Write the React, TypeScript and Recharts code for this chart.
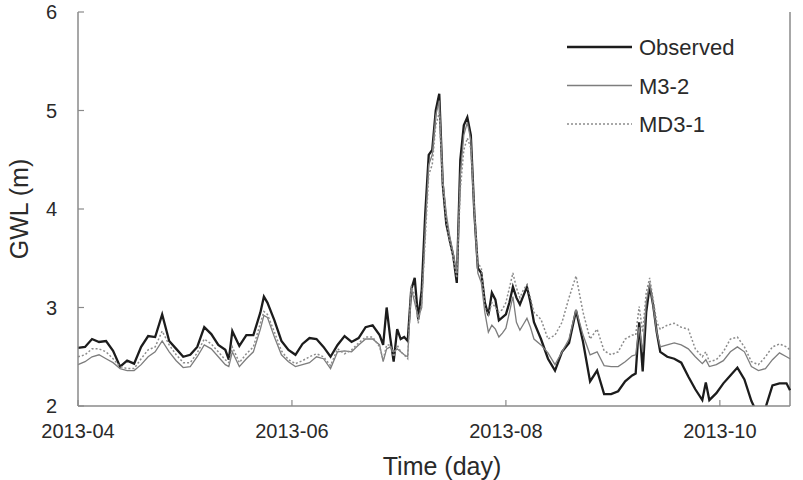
import { LineChart, Line, XAxis, YAxis, ReferenceLine } from 'recharts';

// day index counted from 2013-04-01
const days = [
  0, 2, 4, 6, 8, 10, 12, 14, 16, 18, 20, 22, 24, 26, 28, 30, 32, 34, 36, 38, 40, 42, 43, 44, 46, 48, 50, 52, 53,
  54, 56, 58, 60, 62, 64, 66, 68, 70, 72, 74, 76, 78, 80, 82, 84,
  86, 87, 88, 89, 90, 91, 92, 93, 94, 95, 96, 97, 98, 99, 100, 101, 102, 103, 104, 105, 106, 107, 108, 109, 110,
  111, 112, 113, 114, 115, 116, 117, 118, 119, 120, 121, 122, 123, 124, 125, 126, 127, 128, 129, 130,
  132, 134, 136, 138, 140, 142, 144, 146, 148, 150, 152, 154, 156, 158,
  159, 160, 161, 162, 163, 164, 165, 166,
  168, 170, 172, 174, 176, 178, 179, 180, 182, 184, 186, 188, 190, 192, 194, 196, 198, 200, 202, 203,
];

const observed = [
  2.59, 2.6, 2.68, 2.65, 2.66, 2.56, 2.4, 2.46, 2.43, 2.6, 2.71, 2.7, 2.93, 2.66, 2.58, 2.5, 2.52, 2.6, 2.8, 2.73, 2.62, 2.57, 2.47, 2.76, 2.61, 2.72, 2.72, 2.95, 3.11,
  3.05, 2.87, 2.66, 2.57, 2.52, 2.63, 2.69, 2.68, 2.6, 2.5, 2.62, 2.71, 2.65, 2.69, 2.8, 2.82,
  2.72, 2.62, 3.0, 2.7, 2.45, 2.78, 2.68, 2.7, 2.66, 3.18, 3.3, 2.88, 3.18, 3.95, 4.55, 4.6, 5.0, 5.17, 4.25, 3.85, 3.68, 3.52, 3.25, 4.5, 4.85,
  4.93, 4.75, 3.96, 3.4, 3.35, 3.05, 2.92, 3.15, 3.08, 2.87, 2.9, 2.93, 3.05, 3.21, 3.1, 3.03, 3.12, 3.21, 3.05, 2.85,
  2.68, 2.48, 2.36, 2.55, 2.64, 2.97, 2.65, 2.25, 2.36, 2.12, 2.12, 2.15, 2.25, 2.31,
  2.33, 2.85, 2.35, 2.95, 3.22, 3.02, 2.75, 2.55,
  2.5, 2.48, 2.44, 2.3, 2.17, 2.06, 2.24, 2.06, 2.13, 2.23, 2.31, 2.39, 2.27, 2.05, 1.9, 1.98, 2.21, 2.23, 2.23, 2.16,
];

const m32 = [
  2.42, 2.45, 2.5, 2.52, 2.48, 2.44, 2.38, 2.36, 2.36, 2.42, 2.5, 2.55, 2.66, 2.55, 2.46, 2.39, 2.4, 2.5, 2.62, 2.58, 2.5, 2.42, 2.4, 2.55, 2.4, 2.48, 2.55, 2.78, 2.92,
  2.9, 2.7, 2.52, 2.45, 2.4, 2.42, 2.44, 2.5, 2.48, 2.38, 2.55, 2.56, 2.55, 2.62, 2.68, 2.68,
  2.62, 2.45, 2.58, 2.6, 2.55, 2.58, 2.55, 2.52, 2.5, 3.2, 3.05, 2.9, 3.0, 3.8, 4.45, 4.55, 4.95, 5.1, 4.3, 3.95, 3.72, 3.55, 3.35, 4.35, 4.75,
  4.88, 4.7, 3.95, 3.35, 3.25, 2.95, 2.75, 2.82, 2.78, 2.7, 2.74, 2.79, 2.95, 3.11, 2.85, 2.77, 2.83, 2.89, 2.8, 2.68,
  2.62, 2.54, 2.42, 2.55, 2.68, 2.98, 2.72, 2.52, 2.55, 2.41, 2.4, 2.4, 2.45, 2.51,
  2.52, 2.8, 2.55, 3.05, 3.25, 3.01, 2.75, 2.6,
  2.62, 2.64, 2.62, 2.58, 2.5, 2.43, 2.47, 2.4, 2.42, 2.46, 2.55, 2.6, 2.55, 2.4, 2.36, 2.38, 2.47, 2.54, 2.5, 2.48,
];

const md31 = [
  2.5, 2.52, 2.58, 2.58, 2.55, 2.48, 2.4, 2.38, 2.38, 2.48, 2.57, 2.6, 2.76, 2.62, 2.52, 2.44, 2.44, 2.54, 2.68, 2.63, 2.55, 2.47, 2.44, 2.6, 2.44, 2.53, 2.6, 2.84, 2.96,
  2.93, 2.75, 2.56, 2.47, 2.43, 2.46, 2.5, 2.53, 2.5, 2.41, 2.58, 2.53, 2.57, 2.64, 2.7, 2.7,
  2.6, 2.47, 2.62, 2.62, 2.5, 2.62, 2.55, 2.52, 2.48, 3.22, 3.12, 2.84, 3.05, 3.7, 4.35, 4.45, 4.85, 4.98, 4.25, 3.88, 3.65, 3.5, 3.3, 4.2, 4.6,
  4.72, 4.62, 4.0, 3.45, 3.4, 3.0, 2.92, 3.05, 3.0, 2.95, 2.98, 3.05, 3.2, 3.35, 3.2, 3.1, 3.18, 3.23, 3.1, 2.95,
  2.88, 2.68, 2.72, 2.85, 3.1, 3.32, 2.95, 2.68, 2.78, 2.56, 2.52, 2.55, 2.68, 2.72,
  2.72, 3.01, 2.75, 3.15, 3.3, 3.08, 2.85, 2.78,
  2.82, 2.84, 2.8, 2.78, 2.58, 2.5, 2.55, 2.45, 2.47, 2.55, 2.68, 2.7, 2.6, 2.45, 2.42, 2.5, 2.6, 2.63, 2.6, 2.57,
];

const xTickDays = [0, 61, 122, 183];
const xTickLabels = ['2013-04', '2013-06', '2013-08', '2013-10'];
const yTicks = [2, 3, 4, 5, 6];

const series = [
  { key: 'observed', name: 'Observed', color: '#1c1c1c', width: 2.3, dash: undefined },
  { key: 'm32', name: 'M3-2', color: '#7d7d7d', width: 1.3, dash: undefined },
  { key: 'md31', name: 'MD3-1', color: '#8c8c8c', width: 1.5, dash: '2 2' },
];

const data = days.map((d, i) => ({ day: d, observed: observed[i], m32: m32[i], md31: md31[i] }));

const font = '"Liberation Sans", Arial, sans-serif';
const axisColor = '#8a8a8a';
const textColor = '#2a2a2a';

const YTick = ({ x, y, payload }: any) => (
  <g>
    <line x1={x} x2={x + 6} y1={y} y2={y} stroke={axisColor} strokeWidth={1.2} />
    <text x={x - 21} y={y} dy={7} textAnchor="end" fontSize={20} fontFamily={font} fill={textColor}>
      {payload.value}
    </text>
  </g>
);

const XTick = ({ x, y, payload }: any) => {
  const idx = xTickDays.indexOf(payload.value);
  return (
    <g>
      <line x1={x} x2={x} y1={y} y2={y - 6} stroke={axisColor} strokeWidth={1.2} />
      <text x={x} y={y} dy={32} textAnchor="middle" fontSize={20} fontFamily={font} fill={textColor}>
        {xTickLabels[idx]}
      </text>
    </g>
  );
};

export default function App() {
  return (
    <div style={{ position: 'absolute', left: 0, top: 0, width: 803, height: 480, background: '#fff' }}>
      <LineChart width={803} height={480} data={data} margin={{ top: 12, right: 13, bottom: 0, left: 0 }}>
        <XAxis
          dataKey="day"
          type="number"
          domain={[0, 203]}
          ticks={xTickDays}
          tick={<XTick />}
          tickLine={false}
          tickSize={0}
          tickMargin={0}
          height={74}
          axisLine={{ stroke: axisColor, strokeWidth: 1.5 }}
          label={{
            content: ({ viewBox }: any) => (
              <text x={viewBox.x + viewBox.width / 2 + 8} y={475} textAnchor="middle" fontSize={25} fontFamily={font} fill={textColor}>
                Time (day)
              </text>
            ),
          }}
        />
        <YAxis
          type="number"
          domain={[2, 6]}
          allowDataOverflow
          ticks={yTicks}
          tick={<YTick />}
          tickLine={false}
          tickSize={0}
          tickMargin={0}
          width={78}
          axisLine={{ stroke: axisColor, strokeWidth: 1.5 }}
          label={{
            content: () => (
              <text x={28} y={209} transform="rotate(-90 28 209)" textAnchor="middle" fontSize={25} fontFamily={font} fill={textColor}>
                GWL (m)
              </text>
            ),
          }}
        />
        <ReferenceLine x={203} stroke={axisColor} strokeWidth={1.5} />
        {series.map((s) => (
          <Line
            key={s.key}
            type="linear"
            dataKey={s.key}
            name={s.name}
            stroke={s.color}
            strokeWidth={s.width}
            strokeDasharray={s.dash}
            dot={false}
            isAnimationActive={false}
          />
        ))}
      </LineChart>
      <svg width={803} height={480} style={{ position: 'absolute', left: 0, top: 0, pointerEvents: 'none' }}>
        {series.map((s, i) => {
          const y = 47 + i * 38.5;
          return (
            <g key={s.key}>
              <line x1={567} x2={632} y1={y} y2={y} stroke={s.color} strokeWidth={s.width} strokeDasharray={s.dash} />
              <text x={639} y={y} dy={8} fontSize={22} fontFamily={font} fill={textColor}>
                {s.name}
              </text>
            </g>
          );
        })}
      </svg>
    </div>
  );
}
